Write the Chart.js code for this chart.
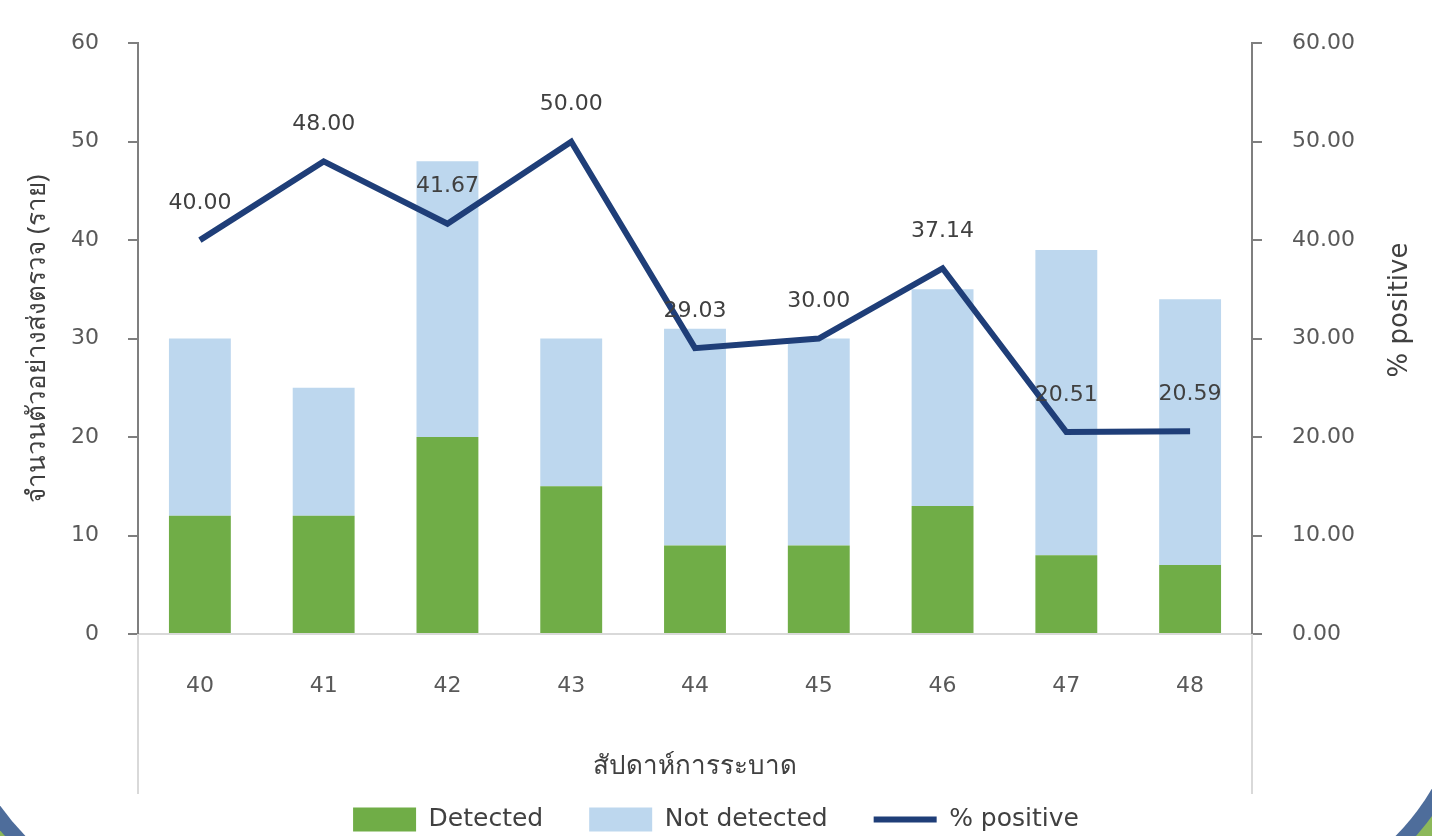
<!DOCTYPE html>
<html>
<head>
<meta charset="utf-8">
<script src="https://cdn.jsdelivr.net/npm/chart.js@4.4.0/dist/chart.umd.min.js"></script>
<style>
    body { margin: 0; width: 1432px; height: 836px; overflow: hidden; position: relative; background: #8cb85a; }
    .frame { position: absolute; left: -61px; top: -115px; width: 1543px; height: 1041px; border-radius: 0 0 265px 265px; background: #4e6d9b; }
    .sheet { position: absolute; left: -46px; top: -100px; width: 1513px; height: 1011px; border-radius: 0 0 250px 250px; background: #fff; }
    canvas { position: absolute; left: 0; top: 0; }
</style>
</head>
<body>
<div class="frame"></div>
<div class="sheet"></div>
<canvas id="weeklyChart" width="1432" height="836"></canvas>
<script>
// Weekly sample counts and % positive
const weeks = ['40', '41', '42', '43', '44', '45', '46', '47', '48'];
const detected = [12, 12, 20, 15, 9, 9, 13, 8, 7];
const notDetected = [18, 13, 28, 15, 22, 21, 22, 31, 27];
const pctPositive = [40.00, 48.00, 41.67, 50.00, 29.03, 30.00, 37.14, 20.51, 20.59];

const FONT = "'DejaVu Sans', 'Noto Sans', sans-serif";
const THAI_FONT = "'Noto Sans', sans-serif";
const TEXT = '#404040';
const TICK = '#595959';

Chart.defaults.font.family = FONT;
Chart.defaults.font.size = 22;

// value labels above the line
const pointLabels = {
    id: 'pointLabels',
    afterDatasetsDraw(chart) {
        const meta = chart.getDatasetMeta(2);
        const ctx = chart.ctx;
        ctx.save();
        ctx.font = '22px ' + FONT;
        ctx.fillStyle = TEXT;
        ctx.textAlign = 'center';
        ctx.textBaseline = 'middle';
        meta.data.forEach((pt, i) => {
            ctx.fillText(pctPositive[i].toFixed(2), pt.x, pt.y - 37);
        });
        ctx.restore();
    }
};

// light lines below the plot on both sides + right axis title
const axisExtras = {
    id: 'axisExtras',
    afterDraw(chart) {
        const { ctx, chartArea: { left, right, bottom } } = chart;
        ctx.save();
        ctx.strokeStyle = '#d9d9d9';
        ctx.lineWidth = 2;
        ctx.beginPath();
        ctx.moveTo(left, bottom);
        ctx.lineTo(left, bottom + 160);
        ctx.moveTo(right, bottom);
        ctx.lineTo(right, bottom + 160);
        ctx.stroke();

        ctx.translate(1400, 310);
        ctx.rotate(-Math.PI / 2);
        ctx.font = '26px ' + FONT;
        ctx.fillStyle = TEXT;
        ctx.textAlign = 'center';
        ctx.textBaseline = 'middle';
        ctx.fillText('% positive', 0, 0);
        ctx.restore();
    }
};

new Chart(document.getElementById('weeklyChart'), {
    type: 'bar',
    data: {
        labels: weeks,
        datasets: [{
            label: 'Detected',
            data: detected,
            backgroundColor: '#70ad47',
            barPercentage: 0.5,
            categoryPercentage: 1,
            yAxisID: 'y',
            order: 1
        },
        {
            label: 'Not detected',
            data: notDetected,
            backgroundColor: '#bdd7ee',
            barPercentage: 0.5,
            categoryPercentage: 1,
            yAxisID: 'y',
            order: 1
        },
        {
            type: 'line',
            label: '% positive',
            data: pctPositive,
            borderColor: '#1f3e78',
            backgroundColor: '#1f3e78',
            borderWidth: 6,
            pointRadius: 0,
            tension: 0,
            yAxisID: 'y1',
            order: 0
        }]
    },
    options: {
        responsive: false,
        animation: false,
        layout: { padding: { left: 0, right: 0, top: 38, bottom: -6 } },
        plugins: {
            tooltip: { enabled: false },
            legend: {
                position: 'bottom',
                labels: {
                    usePointStyle: true,
                    pointStyleWidth: 63,
                    boxHeight: 24,
                    padding: 46,
                    color: TEXT,
                    font: { size: 25 },
                    sort: (a, b) => a.datasetIndex - b.datasetIndex,
                    generateLabels(chart) {
                        const items = Chart.defaults.plugins.legend.labels.generateLabels(chart);
                        items.forEach(item => {
                            const ds = chart.data.datasets[item.datasetIndex];
                            item.pointStyle = ds.type === 'line' ? 'line' : 'rect';
                            item.lineWidth = ds.type === 'line' ? 6 : 0;
                        });
                        return items;
                    }
                }
            }
        },
        scales: {
            x: {
                stacked: true,
                grid: { display: false, drawTicks: false },
                border: { color: '#d9d9d9', width: 2 },
                ticks: { padding: 39, color: TICK },
                title: {
                    display: true,
                    text: 'สัปดาห์การระบาด',
                    color: TEXT,
                    font: { family: THAI_FONT, size: 26 },
                    padding: { top: 0, bottom: -21 }
                },
                afterFit(scale) { scale.height = 127; }
            },
            y: {
                stacked: true,
                position: 'left',
                min: 0,
                max: 60,
                ticks: { stepSize: 10, padding: 29, color: TICK },
                grid: { drawOnChartArea: false, tickLength: 10, color: '#7f7f7f', lineWidth: 2 },
                border: { color: '#7f7f7f', width: 2 },
                title: {
                    display: true,
                    text: 'จำนวนตัวอย่างส่งตรวจ (ราย)',
                    color: TEXT,
                    font: { family: THAI_FONT, size: 26 },
                    padding: { top: 22, bottom: 0 }
                },
                afterFit(scale) { scale.width = 138; }
            },
            y1: {
                position: 'right',
                min: 0,
                max: 60,
                ticks: {
                    stepSize: 10,
                    padding: 30,
                    color: TICK,
                    callback: v => v.toFixed(2)
                },
                grid: { drawOnChartArea: false, tickLength: 10, color: '#7f7f7f', lineWidth: 2 },
                border: { color: '#7f7f7f', width: 2 },
                afterFit(scale) { scale.width = 180; }
            }
        }
    },
    plugins: [pointLabels, axisExtras]
});
</script>
</body>
</html>
